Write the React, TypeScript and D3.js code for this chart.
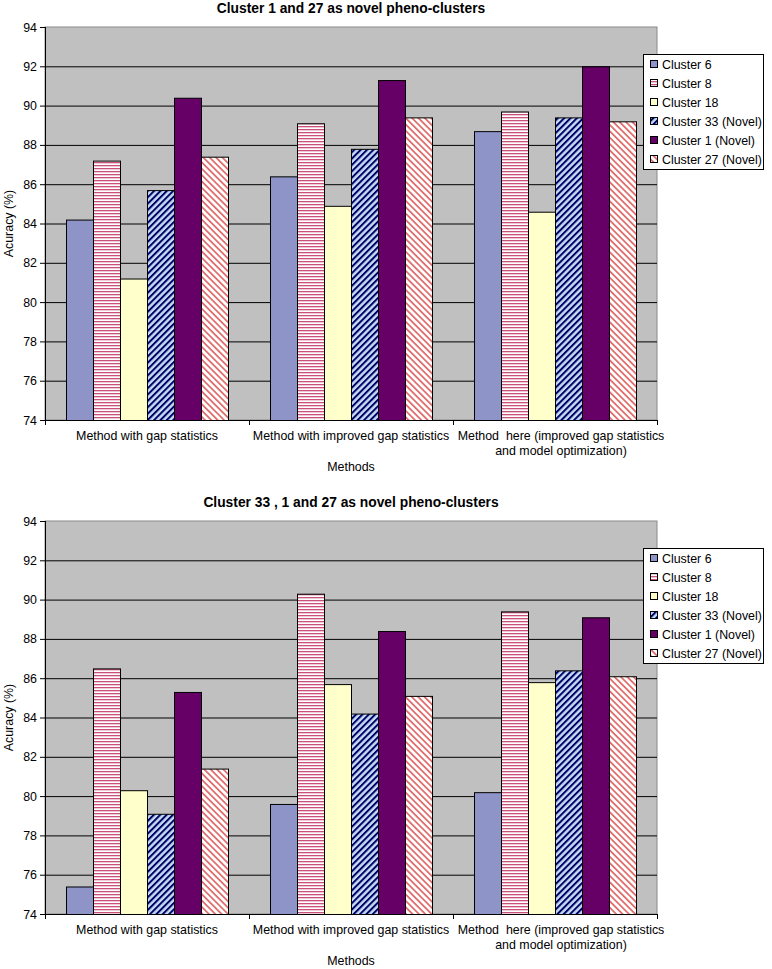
import * as d3 from 'd3'

const methods = [
  ['Method with gap statistics'],
  ['Method with improved gap statistics'],
  ['Method  here (improved gap statistics', 'and model optimization)'],
]
const seriesNames = [
  'Cluster 6',
  'Cluster 8',
  'Cluster 18',
  'Cluster 33 (Novel)',
  'Cluster 1 (Novel)',
  'Cluster 27 (Novel)',
]
const yTicks = [74, 76, 78, 80, 82, 84, 86, 88, 90, 92, 94]

// values per series, one per method
const chart1Values = [
  [84.2, 86.4, 88.7],
  [87.2, 89.1, 89.7],
  [81.2, 84.9, 84.6],
  [85.7, 87.8, 89.4],
  [90.4, 91.3, 92.0],
  [87.4, 89.4, 89.2],
]
const chart2Values = [
  [75.4, 79.6, 80.2],
  [86.5, 90.3, 89.4],
  [80.3, 85.7, 85.8],
  [79.1, 84.2, 86.4],
  [85.3, 88.4, 89.1],
  [81.4, 85.1, 86.1],
]

const fills = [
  '#8e94c8',
  'url(#hstripe)',
  '#ffffcc',
  'url(#dnavy)',
  '#660066',
  'url(#dred)',
]

const font = 'Liberation Sans, Arial, sans-serif'
const fs = 12.4

function Chart({ top, title, values }: { top: number; title: string; values: number[][] }) {
  const left = 45
  const right = 657
  const plotTop = top
  const plotBottom = top + 393
  const x0 = d3.scaleBand<number>().domain([0, 1, 2]).range([left, right])
  const x1 = d3
    .scaleBand<number>()
    .domain(d3.range(seriesNames.length))
    .range([21, x0.bandwidth() - 21])
  const y = d3.scaleLinear().domain([74, 94]).range([plotBottom, plotTop])
  const legendTop = top + 27
  return (
    <g>
      <text
        x={(left + right) / 2}
        y={top - 14}
        textAnchor="middle"
        fontFamily={font}
        fontWeight="bold"
        fontSize={13.8}
      >
        {title}
      </text>
      <rect x={left} y={plotTop} width={right - left} height={plotBottom - plotTop} fill="#c0c0c0" stroke="#8a8a8a" />
      {yTicks.slice(1, -1).map((t) => (
        <line key={t} x1={left} x2={right} y1={y(t) + 0.5} y2={y(t) + 0.5} stroke="#000" strokeWidth={1} />
      ))}
      {methods.map((_, mi) =>
        seriesNames.map((_, si) => {
          const v = values[si][mi]
          return (
            <rect
              key={`${mi}-${si}`}
              x={x0(mi)! + x1(si)! + 0.5}
              y={y(v) + 0.5}
              width={x1.bandwidth()}
              height={plotBottom - y(v)}
              fill={fills[si]}
              stroke="#000"
              strokeWidth={1}
            />
          )
        })
      )}
      {/* axes */}
      <line x1={left + 0.5} x2={left + 0.5} y1={plotTop} y2={plotBottom} stroke="#000" />
      <line x1={left} x2={right} y1={plotBottom + 0.5} y2={plotBottom + 0.5} stroke="#000" />
      {yTicks.map((t) => (
        <g key={t}>
          <line x1={left - 5} x2={left} y1={y(t) + 0.5} y2={y(t) + 0.5} stroke="#000" />
          <text x={left - 8} y={y(t) + 4.5} textAnchor="end" fontFamily={font} fontSize={fs}>
            {t}
          </text>
        </g>
      ))}
      {[0, 1, 2, 3].map((i) => {
        const xx = i < 3 ? x0(i)! : right
        return <line key={i} x1={xx + 0.5} x2={xx + 0.5} y1={plotBottom} y2={plotBottom + 5} stroke="#000" />
      })}
      {methods.map((lines, mi) => {
        const cx = x0(mi)! + x0.bandwidth() / 2 + (mi === 2 ? 6 : 0)
        return (
          <text
            key={mi}
            x={cx}
            y={plotBottom + 20}
            textAnchor="middle"
            fontFamily={font}
            fontSize={fs}
            style={{ whiteSpace: 'pre' }}
          >
            {lines.map((l, li) => (
              <tspan key={li} x={cx} dy={li === 0 ? 0 : 15}>
                {l}
              </tspan>
            ))}
          </text>
        )
      })}
      <text
        x={(left + right) / 2}
        y={plotBottom + 51}
        textAnchor="middle"
        fontFamily={font}
        fontSize={fs}
      >
        Methods
      </text>
      <text
        transform={`translate(13,${(plotTop + plotBottom) / 2}) rotate(-90)`}
        textAnchor="middle"
        fontFamily={font}
        fontSize={fs}
      >
        Acuracy (%)
      </text>
      {/* legend */}
      <rect x={643.5} y={legendTop + 0.5} width={120} height={115} fill="#fff" stroke="#000" />
      {seriesNames.map((name, si) => {
        const ly = legendTop + 10 + si * 19
        return (
          <g key={name}>
            <rect x={650.5} y={ly - 3.5} width={7} height={7} fill={fills[si]} stroke="#000" />
            <text x={662} y={ly + 4.5} fontFamily={font} fontSize={fs}>
              {name}
            </text>
          </g>
        )
      })}
    </g>
  )
}

export default function App() {
  return (
    <svg
      width={772}
      height={969}
      style={{ position: 'absolute', left: 0, top: 0, background: '#fff' }}
    >
      <defs>
        <pattern id="hstripe" patternUnits="userSpaceOnUse" width={4} height={3}>
          <rect width={4} height={3} fill="#fff" />
          <rect y={0} width={4} height={1.3} fill="#c8507a" />
        </pattern>
        <pattern id="dnavy" patternUnits="userSpaceOnUse" width={4.5} height={4.5} patternTransform="rotate(45)">
          <rect width={4.5} height={4.5} fill="#c4dcf4" />
          <rect width={2} height={4.5} fill="#000066" />
        </pattern>
        <pattern id="dred" patternUnits="userSpaceOnUse" width={4.5} height={4.5} patternTransform="rotate(-45)">
          <rect width={4.5} height={4.5} fill="#fff" />
          <rect width={1.8} height={4.5} fill="#e07070" />
        </pattern>
      </defs>
      <Chart top={27} title="Cluster 1 and 27 as novel pheno-clusters" values={chart1Values} />
      <Chart top={521} title="Cluster 33 , 1 and 27 as novel pheno-clusters" values={chart2Values} />
    </svg>
  )
}
